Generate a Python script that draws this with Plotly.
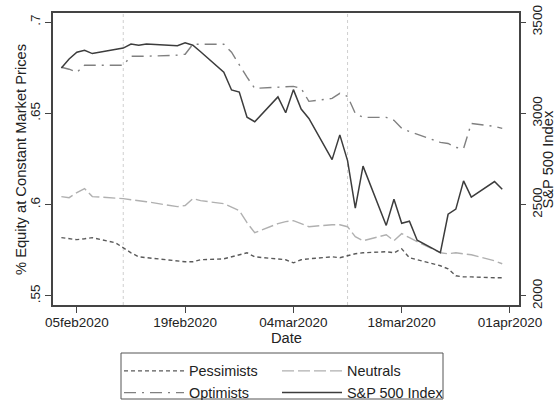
import plotly.graph_objects as go

# Trading days covered by the survey window
dates = [
    "2020-02-03", "2020-02-04", "2020-02-05", "2020-02-06", "2020-02-07",
    "2020-02-10", "2020-02-11", "2020-02-12", "2020-02-13", "2020-02-14",
    "2020-02-18", "2020-02-19", "2020-02-20", "2020-02-21",
    "2020-02-24", "2020-02-25", "2020-02-26", "2020-02-27", "2020-02-28",
    "2020-03-02", "2020-03-03", "2020-03-04", "2020-03-05", "2020-03-06",
    "2020-03-09", "2020-03-10", "2020-03-11", "2020-03-12", "2020-03-13",
    "2020-03-16", "2020-03-17", "2020-03-18", "2020-03-19", "2020-03-20",
    "2020-03-23", "2020-03-24", "2020-03-25", "2020-03-26", "2020-03-27",
    "2020-03-30", "2020-03-31",
]

# Share of equity at constant market prices, by expectation group
pessimists = [
    0.5819, 0.5813, 0.5808, 0.5813, 0.5819,
    0.5791, 0.5764, 0.5736, 0.5714, 0.5709,
    0.5692, 0.5687, 0.5687, 0.5698,
    0.5703, 0.5714, 0.5725, 0.5736, 0.5714,
    0.5703, 0.5698, 0.5681, 0.5698, 0.5703,
    0.5714, 0.5709, 0.5720, 0.5731, 0.5736,
    0.5742, 0.5736, 0.5758, 0.5709, 0.5698,
    0.5665, 0.5648, 0.5610, 0.5604, 0.5604,
    0.5599, 0.5599,
]
neutrals = [
    0.6044, 0.6038, 0.6066, 0.6088, 0.6044,
    0.6038, 0.6033, 0.6027, 0.6022, 0.6016,
    0.5989, 0.5995, 0.6033, 0.6022,
    0.6005, 0.5984, 0.5967, 0.5901, 0.5846,
    0.5896, 0.5907, 0.5912, 0.5896, 0.5879,
    0.5890, 0.5890, 0.5879, 0.5824, 0.5802,
    0.5835, 0.5802, 0.5841, 0.5819, 0.5797,
    0.5736, 0.5731, 0.5736, 0.5731, 0.5725,
    0.5692, 0.5676,
]
optimists = [
    0.6753, 0.6742, 0.6725, 0.6764, 0.6764,
    0.6764, 0.6764, 0.6813, 0.6813, 0.6813,
    0.6819, 0.6824, 0.6879, 0.6879,
    0.6879, 0.6835, 0.6764, 0.6698, 0.6637,
    0.6643, 0.6648, 0.6648, 0.6637, 0.6566,
    0.6582, 0.6610, 0.6593, 0.6500, 0.6478,
    0.6478, 0.6462, 0.6418, 0.6401, 0.6385,
    0.6341, 0.6335, 0.6313, 0.6308, 0.6445,
    0.6429, 0.6418,
]

# S&P 500 daily close
sp500 = [
    3248.92, 3297.59, 3334.69, 3345.78, 3327.71,
    3352.09, 3357.75, 3379.45, 3373.94, 3380.16,
    3370.29, 3386.15, 3373.23, 3337.75,
    3225.89, 3128.21, 3116.39, 2978.76, 2954.22,
    3090.23, 3003.37, 3130.12, 3023.94, 2972.37,
    2746.56, 2882.23, 2741.38, 2480.64, 2711.02,
    2386.13, 2529.19, 2398.10, 2409.39, 2304.92,
    2237.40, 2447.33, 2475.56, 2630.07, 2541.47,
    2626.65, 2584.59,
]

x_tick_vals = ["2020-02-05", "2020-02-19", "2020-03-04", "2020-03-18", "2020-04-01"]
x_tick_text = ["05feb2020", "19feb2020", "04mar2020", "18mar2020", "01apr2020"]
y_tick_vals = [0.55, 0.6, 0.65, 0.7]
y_tick_text = [".55", ".6", ".65", ".7"]
y2_tick_vals = [2000, 2500, 3000, 3500]
event_dates = ["2020-02-11", "2020-03-11"]

FONT = "Liberation Sans, Arial, sans-serif"
TXT = "#222222"
AX = "#444444"
TICK_SIZE = 13.5
TITLE_SIZE = 14.7
LEGEND_SIZE = 14.4

# plot area in pixels: left 53, right 519, top 13, bottom 305
PL, PR, PT, PB = 53, 519, 13, 305


def px_x(p):
    return (p - PL) / (PR - PL)


def px_y(p):
    return 1 - (p - PT) / (PB - PT)


fig = go.Figure()
fig.add_trace(go.Scatter(x=dates, y=pessimists, name="Pessimists", mode="lines",
                         line=dict(color="#5a5a5a", width=1.4, dash="4px,3px"),
                         legend="legend"))
fig.add_trace(go.Scatter(x=dates, y=neutrals, name="Neutrals", mode="lines",
                         line=dict(color="#b0b0b0", width=1.4, dash="12px,4px"),
                         legend="legend2"))
fig.add_trace(go.Scatter(x=dates, y=optimists, name="Optimists", mode="lines",
                         line=dict(color="#808080", width=1.4, dash="12px,6px,2px,6px"),
                         legend="legend"))
fig.add_trace(go.Scatter(x=dates, y=sp500, name="S&P 500 Index", mode="lines",
                         line=dict(color="#3c3c3c", width=1.5),
                         yaxis="y2", legend="legend2"))

for d in event_dates:
    fig.add_shape(type="line", xref="x", yref="paper", x0=d, x1=d, y0=0, y1=1,
                  line=dict(color="#cfcfcf", width=1, dash="dot"), layer="below")

# box framing the legend
fig.add_shape(type="rect", xref="paper", yref="paper",
              x0=px_x(121), x1=px_x(443), y0=px_y(399), y1=px_y(353),
              line=dict(color="#555555", width=1))

# axis titles
title_font = dict(family=FONT, size=TITLE_SIZE, color=TXT)
fig.add_annotation(text="% Equity at Constant Market Prices", textangle=-90,
                   xref="paper", yref="paper", x=px_x(21), y=px_y(160),
                   xanchor="center", yanchor="middle", showarrow=False,
                   font=title_font)
fig.add_annotation(text="S&P 500 Index", textangle=-90,
                   xref="paper", yref="paper", x=px_x(547.5), y=px_y(160),
                   xanchor="center", yanchor="middle", showarrow=False,
                   font=title_font)
fig.add_annotation(text="Date", xref="paper", yref="paper",
                   x=px_x(286), y=px_y(338), xanchor="center", yanchor="middle",
                   showarrow=False, font=title_font)

legend_common = dict(orientation="v", bgcolor="rgba(0,0,0,0)", borderwidth=0,
                     font=dict(family=FONT, size=LEGEND_SIZE, color=TXT),
                     tracegroupgap=0, itemwidth=60, yanchor="top",
                     xanchor="left", itemclick=False)

fig.update_layout(
    width=557, height=400,
    margin=dict(l=PL, r=557 - PR, t=PT, b=400 - PB, autoexpand=False),
    paper_bgcolor="white", plot_bgcolor="white",
    font=dict(family=FONT, size=TICK_SIZE, color=TXT),
    xaxis=dict(
        type="date",
        range=["2020-02-01 22:00", "2020-04-02 04:00"],
        tickvals=x_tick_vals, ticktext=x_tick_text, tickangle=0,
        ticks="outside", ticklen=6, tickcolor=AX, tickwidth=1,
        showline=True, linecolor=AX, linewidth=1.5, mirror=True,
        showgrid=False, zeroline=False, ticklabelstandoff=-2,
        tickfont=dict(size=TICK_SIZE),
    ),
    yaxis=dict(
        range=[0.545, 0.705],
        tickvals=y_tick_vals, ticktext=y_tick_text, tickangle=-90,
        ticks="outside", ticklen=6, tickcolor=AX, tickwidth=1,
        showline=True, linecolor=AX, linewidth=1.5, mirror=True,
        showgrid=False, zeroline=False,
        tickfont=dict(size=TICK_SIZE),
    ),
    yaxis2=dict(
        overlaying="y", side="right",
        range=[1950, 3550],
        tickvals=y2_tick_vals, tickangle=-90,
        ticks="outside", ticklen=6, tickcolor=AX, tickwidth=1,
        showline=False, showgrid=False, zeroline=False,
        tickfont=dict(size=TICK_SIZE),
    ),
    legend=dict(x=px_x(119), y=px_y(355), **legend_common),
    legend2=dict(x=px_x(277), y=px_y(355), **legend_common),
)

fig.write_html("out.html")
